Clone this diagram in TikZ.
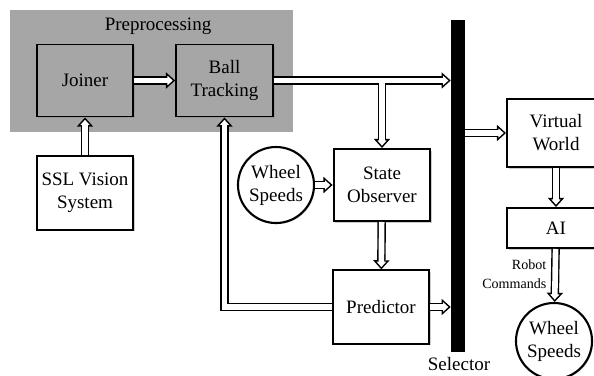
\documentclass[tikz,border=0pt]{standalone}
\usepackage{fontspec}
\setmainfont{Liberation Serif}
\usetikzlibrary{arrows.meta, shadows}
\definecolor{prepgray}{RGB}{166,166,166}
\tikzstyle{block} = [rectangle, minimum width=2.42cm, minimum height=1.8cm, align=center, draw=black, line width=1.4pt, fill=white, drop shadow={shadow xshift=1.3pt, shadow yshift=-1.3pt, opacity=0.4}]
\tikzstyle{wheel} = [circle, minimum size=1.9cm, inner sep=0pt, align=center, draw=black, line width=1.5pt, fill=white, drop shadow={shadow xshift=0.8pt, shadow yshift=-0.8pt, opacity=0.35}]
\tikzstyle{pipe} = [draw=black, line width=6pt, -{Triangle[width=11.5pt, length=6.5pt, line width=1pt, fill=white]}, postaction={draw=white, line width=4pt, -, shorten >=4.3pt}]

\begin{document}
\begin{tikzpicture}[
			x = 0.025cm, y = -0.025cm,
			every node/.style = {font = \fontsize{13.5}{16.4}\selectfont}]
			\clip (0,0) rectangle (594,376);
			\fill[white] (0,0) rectangle (594,376);
			\fill[prepgray] (10,10) rectangle (293,132);
			\node (prelbl) at (158,26) {Preprocessing};

			% Blocks
			\node[block, fill=prepgray] (joiner) at (85,80.5) {Joiner};
			\node[block, fill=prepgray] (ball) at (224.5,80.5) {Ball\\Tracking};
			\node[block, minimum height=1.83cm] (ssl) at (85,193) {SSL Vision\\System};
			\node[wheel] (wheelin) at (276,185) {Wheel\\Speeds};
			\node[block] (observer) at (382,185) {State\\Observer};
			\node[block, minimum height=1.83cm] (predictor) at (381,307) {Predictor};
			\node[rectangle, fill=black, minimum width=0.35cm, minimum height=8.3cm, inner sep=0pt] (sel) at (458,186) {};
			\node[inner sep=1pt] (sellbl) at (459,364) {Selector};
			\node[block, minimum width=2.45cm, minimum height=1.7cm] (world) at (556,133) {Virtual\\World};
			\node[block, minimum width=2.45cm, minimum height=1cm] (ai) at (556,228) {AI};
			\node[wheel] (wheelout) at (554,341) {Wheel\\Speeds};

			% Arrows
			\draw[pipe] (joiner) -- (ball);
			\draw[pipe] (ssl) -- (joiner);
			\coordinate (split) at (observer.north |- ball.east);
			\draw[pipe] (split) -- (observer.north);
			\draw[pipe] (ball.east) -- (ball.east -| sel.west);
			\draw[white, line width=4pt] (split) -- ++(0,5);
			\draw[pipe] (wheelin) -- (observer);
			\draw[pipe] (observer) -- (predictor);
			\draw[pipe] (predictor.west) -| (ball.south);
			\draw[pipe] (predictor.east) -- (predictor.east -| sel.west);
			\draw[pipe] (world.west -| sel.east) -- (world.west);
			\draw[pipe] (world) -- (ai);
			\draw[pipe] (ai) -- (wheelout);

			% Labels
			\node[font = \fontsize{10}{13.5}\selectfont, align=right, anchor=east, inner sep=1pt] (cmdlbl) at (548,274) {Robot\\Commands};
		\end{tikzpicture}
\end{document}
